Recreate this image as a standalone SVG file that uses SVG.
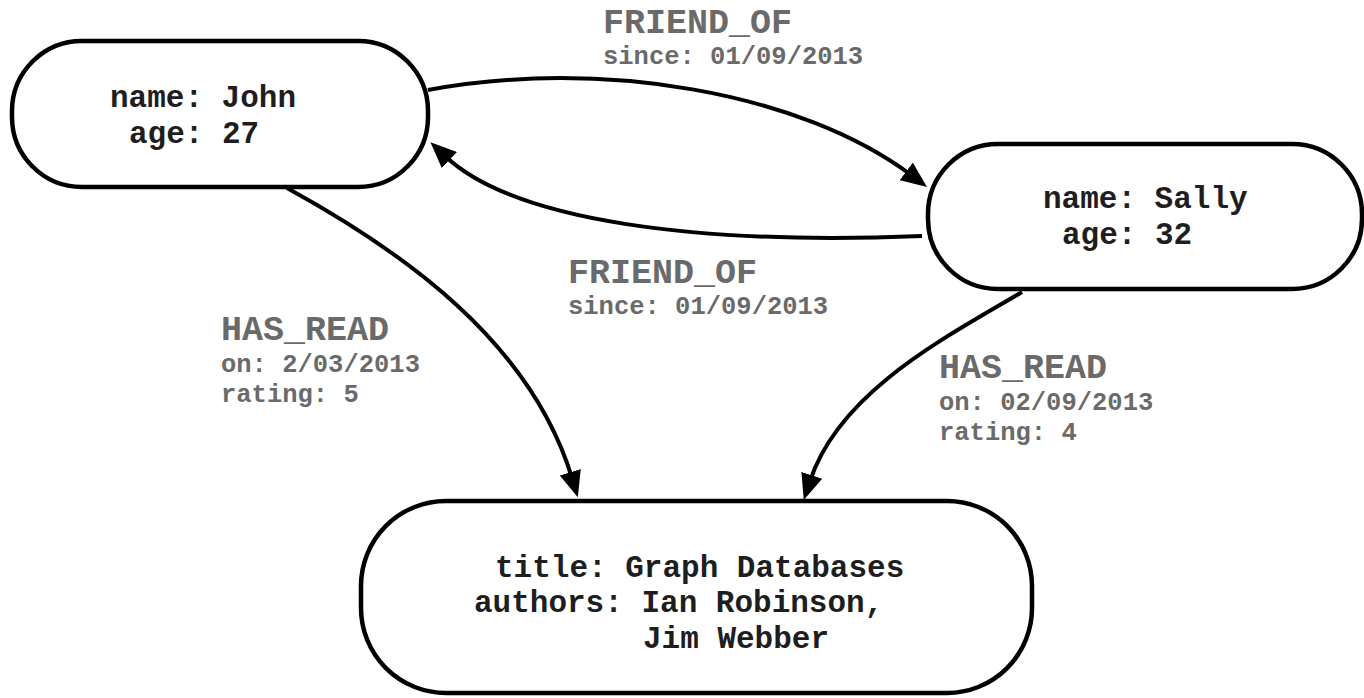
<svg xmlns="http://www.w3.org/2000/svg" width="1364" height="698" viewBox="0 0 1364 698">
<style>
.node rect{fill:#fff;stroke:#000;stroke-width:4.5}
.ntext{font-family:"Liberation Mono","DejaVu Sans Mono",monospace;font-weight:bold;font-size:31px;fill:#1e1e1e}
.edge{fill:none;stroke:#000;stroke-width:4;stroke-linecap:butt}
.lbl{font-family:"Liberation Mono","DejaVu Sans Mono",monospace;font-weight:bold;fill:#6a6a6a}
.big{font-size:35px}
.small{font-size:25.5px}
</style>
<defs>
<marker id="arrow" markerUnits="userSpaceOnUse" markerWidth="26" markerHeight="22" refX="6" refY="11" orient="auto">
<path d="M0,0 L26,11 L0,22 z" fill="#000"/>
</marker>
</defs>
<rect width="1364" height="698" fill="#fff"/>
<g id="connectors">
<path class="edge" d="M428,90 C 600,58 800,92 911,175" marker-end="url(#arrow)"/>
<path class="edge" d="M922,236 C 700,245 515,222 445,156" marker-end="url(#arrow)"/>
<path class="edge" d="M287,188 C 400,250 530,340 572,478" marker-end="url(#arrow)"/>
<path class="edge" d="M1022,292 C 950,335 840,390 810,481" marker-end="url(#arrow)"/>
</g>
<g id="john" class="node">
<rect x="12" y="41" width="416" height="146" rx="70" ry="70"/>
<text class="ntext" x="110" y="107">name: John</text>
<text class="ntext" x="129" y="143">age: 27</text>
</g>
<g id="sally" class="node">
<rect x="928" y="144" width="434" height="145" rx="70" ry="70"/>
<text class="ntext" x="1043" y="208">name: Sally</text>
<text class="ntext" x="1062" y="244">age: 32</text>
</g>
<g id="book" class="node">
<rect x="361" y="501" width="671" height="192" rx="85" ry="85"/>
<text class="ntext" x="495" y="577">title: Graph Databases</text>
<text class="ntext" x="474" y="612">authors: Ian Robinson,</text>
<text class="ntext" x="643" y="648">Jim Webber</text>
</g>
<g id="labels">
<text class="lbl big" x="603" y="33">FRIEND_OF</text>
<text class="lbl small" x="603" y="64">since: 01/09/2013</text>
<text class="lbl big" x="568" y="283">FRIEND_OF</text>
<text class="lbl small" x="568" y="314">since: 01/09/2013</text>
<text class="lbl big" x="221" y="340">HAS_READ</text>
<text class="lbl small" x="221" y="372">on: 2/03/2013</text>
<text class="lbl small" x="221" y="402">rating: 5</text>
<text class="lbl big" x="939" y="378">HAS_READ</text>
<text class="lbl small" x="939" y="410">on: 02/09/2013</text>
<text class="lbl small" x="939" y="440">rating: 4</text>
</g>
</svg>
